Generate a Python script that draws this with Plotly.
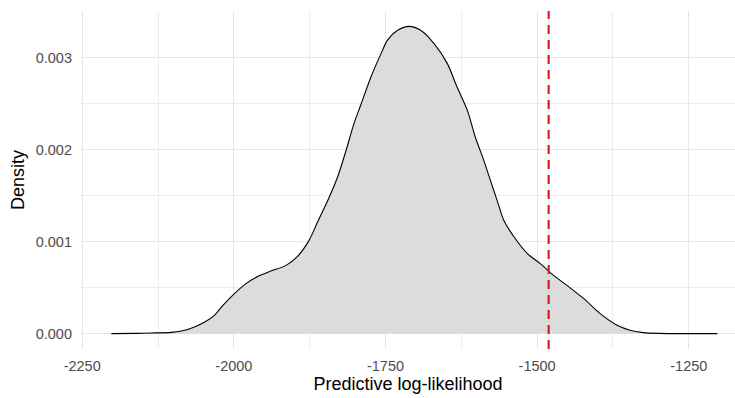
import plotly.graph_objects as go

# Posterior predictive log-likelihood density (outline of the estimate)
loglik = [-2202, -2160, -2136, -2103, -2081, -2065, -2048, -2032, -2018, -1999,
          -1980, -1960, -1939, -1914, -1895, -1876, -1862, -1845, -1829, -1815,
          -1802, -1791, -1774, -1755, -1747, -1730, -1711, -1692, -1670, -1648,
          -1632, -1615, -1602, -1588, -1574, -1566, -1555, -1538, -1516, -1495,
          -1473, -1451, -1423, -1396, -1368, -1347, -1325, -1300, -1250, -1203]
density = [0.0, 0.000003, 0.000007, 0.000014, 0.000036, 0.000072, 0.000126, 0.000199,
           0.000308, 0.000435, 0.000543, 0.000623, 0.000680, 0.000742, 0.000840,
           0.001014, 0.001213, 0.001449, 0.001702, 0.001992, 0.002283, 0.002482,
           0.002789, 0.003079, 0.003188, 0.003297, 0.003340, 0.003297, 0.003152,
           0.002935, 0.002680, 0.002427, 0.002137, 0.001884, 0.001605, 0.001449,
           0.001232, 0.001050, 0.000870, 0.000761, 0.000634, 0.000525, 0.000380,
           0.000217, 0.000090, 0.000036, 0.000011, 0.000003, 0.0, 0.0]

# Observed log-likelihood
observed = -1481

x_ticks = [-2250, -2000, -1750, -1500, -1250]
x_tick_text = ["-2250", "-2000", "-1750", "-1500", "-1250"]
x_minor = [-2125, -1875, -1625, -1375, -1125]
y_ticks = [0.0, 0.001, 0.002, 0.003]
y_tick_text = ["0.000", "0.001", "0.002", "0.003"]
y_minor = [0.0005, 0.0015, 0.0025]

grid_major = "#E6E6E6"
grid_minor = "#ECECEC"
tick_font = dict(family="Liberation Sans, Arial, sans-serif", size=14.5, color="#4D4D4D")
title_font = dict(family="Liberation Sans, Arial, sans-serif", size=18, color="#000000")

fig = go.Figure()
fig.add_trace(go.Scatter(
    x=loglik, y=density, mode="lines",
    line=dict(color="#000000", width=1.1, shape="spline", smoothing=0.8),
    fill="tozeroy", fillcolor="#DCDCDC",
    hoverinfo="x+y", showlegend=False,
))

fig.add_shape(
    type="line", xref="x", yref="paper",
    x0=observed, x1=observed, y0=0, y1=1,
    line=dict(color="#E31A1C", width=2.2, dash="9px,6px"),
)

fig.update_layout(
    width=735, height=398,
    margin=dict(l=81, r=0, t=11, b=49),
    paper_bgcolor="white", plot_bgcolor="white",
    font=tick_font,
    xaxis=dict(
        range=[-2252, -1173.8],
        tickvals=x_ticks, ticktext=x_tick_text,
        showgrid=True, gridcolor=grid_major, gridwidth=1.2,
        minor=dict(tickvals=x_minor, showgrid=True, gridcolor=grid_minor, gridwidth=1.1),
        zeroline=False, showline=False, ticks="",
        ticklabelstandoff=6,
        tickfont=tick_font,
        title=dict(text="Predictive log-likelihood", font=title_font, standoff=4),
    ),
    yaxis=dict(
        range=[-0.000167, 0.003507],
        tickvals=y_ticks, ticktext=y_tick_text,
        showgrid=True, gridcolor=grid_major, gridwidth=1.2,
        minor=dict(tickvals=y_minor, showgrid=True, gridcolor=grid_minor, gridwidth=1.1),
        zeroline=False, showline=False, ticks="",
        ticklabelstandoff=8,
        tickfont=tick_font,
        title=dict(text="Density", font=title_font, standoff=6),
    ),
)

fig.write_html("out.html")
